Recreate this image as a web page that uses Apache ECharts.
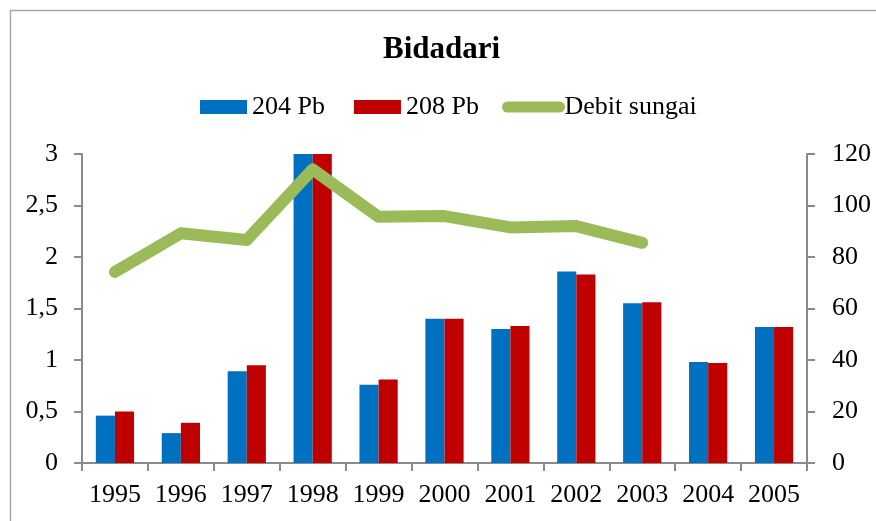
<!DOCTYPE html>
<html>
<head>
<meta charset="utf-8">
<script src="https://cdn.jsdelivr.net/npm/echarts@6/dist/echarts.min.js"></script>
<style>
html,body{margin:0;padding:0;background:#fff;}
#chart{width:876px;height:521px;}
</style>
</head>
<body>
<div id="chart"></div>
<script>
const titleText = 'Bidadari';
const categories = ['1995','1996','1997','1998','1999','2000','2001','2002','2003','2004','2005'];
const pb204 = [0.46, 0.29, 0.89, 3.4, 0.76, 1.40, 1.30, 1.86, 1.55, 0.98, 1.32];
const pb208 = [0.50, 0.39, 0.95, 3.4, 0.81, 1.40, 1.33, 1.83, 1.56, 0.97, 1.32];
const debit = [74.2, 89.2, 86.6, 114.0, 95.6, 95.9, 91.5, 92.0, 85.5, null, null];
const leftTicks = {min: 0, max: 3, interval: 0.5};
const rightTicks = {min: 0, max: 120, interval: 20};

const FONT = 'Liberation Serif';
const axisGray = '#8a8a8a';
// rect icon 47x14 centred inside a 47x22 legend slot
const barIcon = 'path://M0,0L0.01,0Z M0,4L47,4L47,18L0,18Z M0,22L0.01,22Z';
const legendText = {fontFamily: FONT, fontSize: 26, color: '#000'};
const chart = echarts.init(document.getElementById('chart'), null, {renderer: 'canvas'});
const option = {
  animation: false,
  backgroundColor: '#fff',
  textStyle: {fontFamily: FONT},
  graphic: [{
    type: 'rect', silent: true, z: -1,
    shape: {x: 10.5, y: 10.5, width: 900, height: 600},
    style: {fill: 'none', stroke: '#a6a6a6', lineWidth: 1.5}
  }],
  title: {
    text: titleText, left: 378, top: 29,
    textStyle: {fontFamily: FONT, fontWeight: 'bold', fontSize: 31, color: '#000'}
  },
  legend: [{
    top: 89, left: 195, itemWidth: 47, itemHeight: 22, itemGap: 29,
    textStyle: legendText,
    data: [
      {name: '204 Pb', icon: barIcon},
      {name: '208 Pb', icon: barIcon}
    ]
  }, {
    top: 89, left: 497, itemWidth: 52, itemHeight: 22,
    textStyle: legendText,
    data: [
      {name: 'Debit sungai', lineStyle: {width: 11, cap: 'round'}, itemStyle: {opacity: 0}}
    ]
  }],
  grid: {left: 82, right: 69, top: 154, bottom: 58},
  xAxis: {
    type: 'category', data: categories, boundaryGap: true,
    axisLine: {lineStyle: {color: axisGray, width: 2}},
    axisTick: {show: true, length: 8, lineStyle: {color: axisGray, width: 2}},
    axisLabel: {color: '#000', fontFamily: FONT, fontSize: 26, margin: 19, interval: 0}
  },
  yAxis: [{
    type: 'value', min: leftTicks.min, max: leftTicks.max, interval: leftTicks.interval,
    splitLine: {show: false},
    axisLine: {show: true, lineStyle: {color: axisGray, width: 2}},
    axisTick: {show: true, length: 8, lineStyle: {color: axisGray, width: 2}},
    axisLabel: {color: '#000', fontFamily: FONT, fontSize: 26, margin: 24,
      formatter: v => String(v).replace('.', ',')}
  }, {
    type: 'value', min: rightTicks.min, max: rightTicks.max, interval: rightTicks.interval,
    position: 'right', splitLine: {show: false},
    axisLine: {show: true, lineStyle: {color: axisGray, width: 2}},
    axisTick: {show: true, length: 8, lineStyle: {color: axisGray, width: 2}},
    axisLabel: {color: '#000', fontFamily: FONT, fontSize: 26, margin: 25}
  }],
  series: [{
    name: '204 Pb', type: 'bar', data: pb204, yAxisIndex: 0,
    barGap: '0%', barCategoryGap: '42%', clip: true,
    itemStyle: {color: '#0070C0'}
  }, {
    name: '208 Pb', type: 'bar', data: pb208, yAxisIndex: 0,
    barGap: '0%', barCategoryGap: '42%', clip: true,
    itemStyle: {color: '#C00000'}
  }, {
    name: 'Debit sungai', type: 'line', data: debit, yAxisIndex: 1,
    symbol: 'none', showSymbol: false, connectNulls: false,
    lineStyle: {color: '#9BBB59', width: 12, cap: 'round', join: 'round'},
    itemStyle: {color: '#9BBB59'}
  }]
};
chart.setOption(option);
</script>
</body>
</html>
